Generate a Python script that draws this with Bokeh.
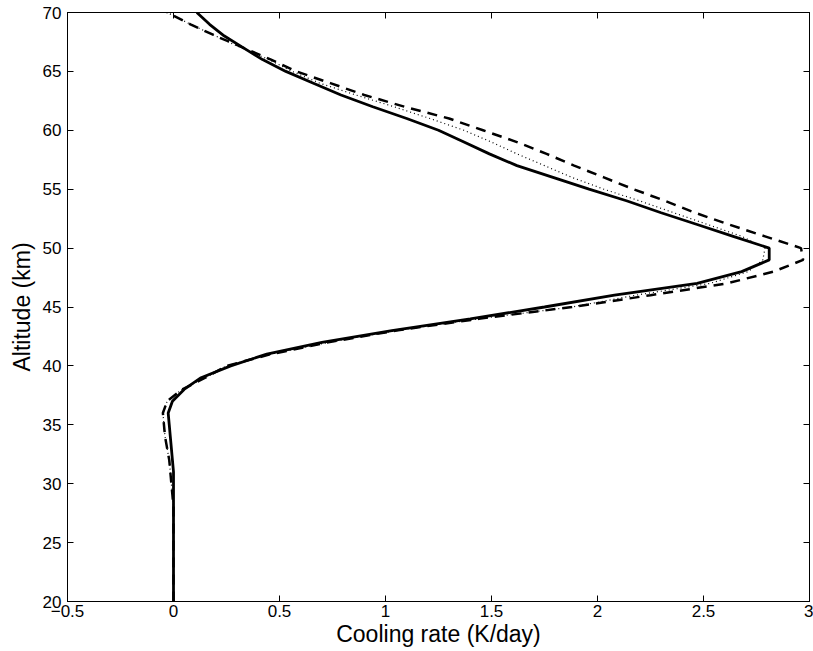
from bokeh.plotting import figure
from bokeh.models import Range1d, LinearAxis, FixedTicker
from bokeh.embed import file_html
from bokeh.resources import INLINE

altitude = list(range(20, 71))

solid = [0.0] * 12 + [
    -0.005, -0.01, -0.015, -0.02, -0.025, -0.005, 0.05, 0.13, 0.27, 0.44,
    0.70, 1.03, 1.40, 1.75, 2.08, 2.47, 2.68, 2.81, 2.81, 2.64,
    2.47, 2.30, 2.14, 1.96, 1.79, 1.62, 1.49, 1.37, 1.25, 1.10,
    0.94, 0.79, 0.66, 0.53, 0.42, 0.33, 0.24, 0.17, 0.11]

dashed = [0.0] * 9 + [
    -0.005, -0.01, -0.015, -0.02, -0.03, -0.04, -0.045, -0.05, -0.03, 0.04,
    0.15, 0.25, 0.46, 0.73, 1.05, 1.44, 1.88, 2.25, 2.61, 2.83,
    2.97, 2.96, 2.79, 2.62, 2.46, 2.32, 2.17, 2.03, 1.89, 1.76,
    1.62, 1.46, 1.30, 1.09, 0.90, 0.74, 0.58, 0.46, 0.33, 0.20,
    0.08, -0.03]

dotted = [0.0] * 9 + [
    -0.005, -0.01, -0.015, -0.02, -0.03, -0.04, -0.045, -0.05, -0.03, 0.04,
    0.15, 0.25, 0.46, 0.73, 1.05, 1.44, 1.88, 2.18, 2.53, 2.71,
    2.78, 2.79, 2.68, 2.52, 2.36, 2.20, 2.03, 1.88, 1.75, 1.62,
    1.50, 1.37, 1.21, 1.04, 0.86, 0.69, 0.56, 0.45, 0.32, 0.20,
    0.08, -0.03]

x_ticks = [-0.5, 0, 0.5, 1, 1.5, 2, 2.5, 3]
x_tick_labels = ["\u22120.5", "0", "0.5", "1", "1.5", "2", "2.5", "3"]
y_ticks = [20, 25, 30, 35, 40, 45, 50, 55, 60, 65, 70]
y_tick_labels = [str(v) for v in y_ticks]

FONT = "Liberation Sans"

p = figure(width=813, height=651, output_backend="svg", toolbar_location=None,
           x_range=Range1d(-0.5, 3), y_range=Range1d(20, 70),
           min_border_left=67, min_border_right=4, min_border_top=12,
           min_border_bottom=50, x_axis_type=None, y_axis_type=None)

p.xgrid.visible = False
p.ygrid.visible = False
p.outline_line_color = "black"
p.outline_line_width = 1
p.background_fill_color = "white"
p.border_fill_color = "white"

def style(ax, labels=True):
    ax.axis_line_color = "black"
    ax.major_tick_line_color = "black"
    ax.major_tick_in = 6
    ax.major_tick_out = 0
    ax.minor_tick_line_color = None
    ax.major_label_text_font = FONT
    ax.major_label_text_font_size = "17px"
    ax.major_label_text_color = "black"
    ax.axis_label_text_font = FONT
    ax.axis_label_text_font_size = "23px"
    ax.axis_label_text_font_style = "normal"
    ax.axis_label_text_color = "black"
    if not labels:
        ax.major_label_text_font_size = "0px"
        ax.major_label_text_alpha = 0

xb = LinearAxis(ticker=FixedTicker(ticks=x_ticks), axis_label="Cooling rate (K/day)")
xb.major_label_overrides = {t: l for t, l in zip(x_ticks, x_tick_labels)}
style(xb)
xb.major_label_standoff = 3
xb.axis_label_standoff = 1
p.add_layout(xb, "below")

yl = LinearAxis(ticker=FixedTicker(ticks=y_ticks), axis_label="Altitude (km)")
yl.major_label_overrides = {t: l for t, l in zip(y_ticks, y_tick_labels)}
style(yl)
yl.major_label_standoff = 6
yl.axis_label_standoff = 5
p.add_layout(yl, "left")

xt = LinearAxis(ticker=FixedTicker(ticks=x_ticks))
style(xt, labels=False)
p.add_layout(xt, "above")

yr = LinearAxis(ticker=FixedTicker(ticks=y_ticks))
style(yr, labels=False)
p.add_layout(yr, "right")

p.line(dotted, altitude, line_color="black", line_width=1.2, line_dash="1 3")
p.line(dashed, altitude, line_color="black", line_width=2.5, line_dash="10 7")
p.line(solid, altitude, line_color="black", line_width=2.8)

open("out.html", "w").write(file_html(p, INLINE))
